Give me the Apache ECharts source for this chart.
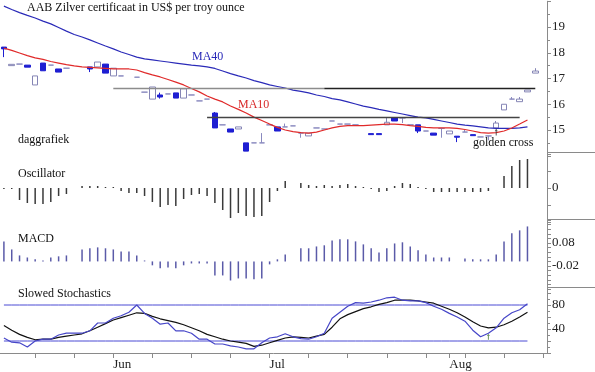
<!DOCTYPE html>
<html><head><meta charset="utf-8">
<script src="https://cdn.jsdelivr.net/npm/echarts@6/dist/echarts.min.js"></script>
<style>html,body{margin:0;padding:0;background:#fff}#c{width:595px;height:372px}</style>
</head><body><div id="c"></div>
<script>
// Trading days (category axis)
const dates = [
 "2013-05-14","2013-05-15","2013-05-16","2013-05-17",
 "2013-05-20","2013-05-21","2013-05-22","2013-05-23","2013-05-24",
 "2013-05-27","2013-05-28","2013-05-29","2013-05-30","2013-05-31",
 "2013-06-03","2013-06-04","2013-06-05","2013-06-06","2013-06-07",
 "2013-06-10","2013-06-11","2013-06-12","2013-06-13","2013-06-14",
 "2013-06-17","2013-06-18","2013-06-19","2013-06-20","2013-06-21",
 "2013-06-24","2013-06-25","2013-06-26","2013-06-27","2013-06-28",
 "2013-07-01","2013-07-02","2013-07-03","2013-07-04","2013-07-05",
 "2013-07-08","2013-07-09","2013-07-10","2013-07-11","2013-07-12",
 "2013-07-15","2013-07-16","2013-07-17","2013-07-18","2013-07-19",
 "2013-07-22","2013-07-23","2013-07-24","2013-07-25","2013-07-26",
 "2013-07-29","2013-07-30","2013-07-31",
 "2013-08-01","2013-08-02",
 "2013-08-05","2013-08-06","2013-08-07","2013-08-08","2013-08-09",
 "2013-08-12","2013-08-13","2013-08-14","2013-08-15","2013-08-16",
 "2013-08-19"
];
const monthNames = ["Jan","Feb","Mar","Apr","May","Jun","Jul","Aug","Sep","Oct","Nov","Dec"];

// Candles
const opens = [18.22,17.50,17.56,17.52,16.75,17.60,17.52,17.37,17.40,null,null,17.45,17.45,17.56,17.10,17.10,null,17.05,16.47,16.20,
16.36,16.40,16.44,16.24,16.36,16.13,16.20,15.66,15.20,15.04,15.04,14.50,14.50,14.50,15.20,15.12,15.12,15.16,14.88,14.77,
15.08,15.04,15.35,15.23,15.23,15.20,null,14.86,14.86,15.20,15.47,15.47,15.20,15.20,14.96,14.88,15.06,14.85,14.76,14.92,
14.82,14.73,14.77,15.08,15.78,16.20,16.10,16.48,17.21];
const closes = [18.15,17.55,17.56,17.44,17.10,17.30,17.52,17.25,17.40,null,null,17.37,17.64,17.21,17.40,17.10,null,17.05,16.47,16.67,
16.28,16.40,16.24,16.60,16.36,16.13,16.20,15.08,15.20,14.92,15.12,14.18,14.50,14.50,15.20,14.96,15.12,15.16,14.88,14.88,
15.08,15.04,15.35,15.23,15.23,15.20,null,14.82,14.82,15.30,15.35,15.47,15.20,14.96,14.96,14.80,15.06,14.96,14.72,14.92,
14.78,14.73,14.77,15.27,16.00,16.20,16.20,16.55,17.29];
const lows = [17.83,17.50,17.56,17.44,16.75,17.30,17.52,17.25,17.40,null,null,17.25,17.45,17.21,17.10,17.10,null,17.05,16.47,16.20,
16.22,16.40,16.24,16.24,16.36,16.13,16.20,15.08,15.20,14.92,15.04,14.18,14.50,14.50,15.20,14.96,15.12,15.16,14.70,14.77,
15.08,15.04,15.35,15.23,15.23,15.20,null,14.82,14.82,15.20,15.35,15.27,15.20,14.88,14.96,14.80,14.70,14.85,14.53,14.92,
14.78,14.73,14.60,15.08,15.78,16.20,16.10,16.48,17.21];
const highs = [18.22,17.55,17.56,17.52,17.10,17.60,17.52,17.37,17.40,null,null,17.45,17.64,17.56,17.40,17.10,null,17.05,16.47,16.67,
16.45,16.40,16.44,16.60,16.36,16.13,16.20,15.70,15.20,15.04,15.12,14.50,14.50,14.88,15.20,15.12,15.25,15.16,14.88,14.88,
15.08,15.04,15.35,15.23,15.23,15.20,null,14.86,14.86,15.47,15.47,15.47,15.20,15.20,14.96,14.88,15.06,14.96,14.76,15.00,
14.82,14.73,14.77,15.35,16.00,16.28,16.28,16.55,17.40];

// Moving averages
const ma40 = [19.81,19.68,19.56,19.45,19.35,19.23,19.12,18.98,18.84,18.71,18.61,18.50,18.38,18.26,18.15,18.03,17.93,17.83,17.76,17.72,
17.68,17.64,17.60,17.56,17.52,17.49,17.45,17.39,17.29,17.19,17.10,17.02,16.92,16.84,16.75,16.69,16.63,16.55,16.50,16.44,
16.36,16.30,16.22,16.17,16.09,16.01,15.93,15.87,15.80,15.74,15.68,15.62,15.56,15.50,15.47,15.41,15.35,15.29,15.23,15.19,
15.16,15.12,15.08,15.06,15.06,15.06,15.08,15.12];
const ma10 = [18.18,18.09,17.99,17.89,17.80,17.74,17.66,17.60,17.54,17.49,17.45,17.43,17.41,17.39,17.37,17.37,17.37,17.33,17.23,17.14,
17.06,16.96,16.86,16.75,16.61,16.48,16.32,16.20,16.09,15.93,15.80,15.66,15.50,15.37,15.23,15.10,15.00,14.94,14.90,14.88,
14.92,15.00,15.08,15.14,15.17,15.17,15.17,15.19,15.21,15.23,15.23,15.21,15.17,15.14,15.10,15.08,15.08,15.08,15.06,15.02,
14.96,14.90,14.88,14.90,14.96,15.08,15.23,15.39];

// Oscillator
const osc = [-1,-1,-12,-15,-16,-16,-14,-8,-6,0,2,2,2,1,1,-3,-5,-5,-8,-14,
-19,-17,-18,-11,-7,-6,-8,-15,-22,-30,-25,-28,-29,-28,-14,-3,7,0,5,3,
2,3,2,3,4,2,1,-1,-4,-3,2,5,4,1,-1,-4,-4,-4,-4,-4,
-4,-4,-3,0,12,22,28,29];

// MACD
const macd = [0.087,0.052,0.026,0.017,0.009,0.004,0.017,0.022,0.026,0,0.052,0.057,0.061,0.057,0.052,0.043,0.043,0.026,0.004,-0.017,
-0.030,-0.026,-0.030,-0.017,-0.009,-0.009,-0.009,-0.061,-0.061,-0.083,-0.074,-0.074,-0.078,-0.074,-0.013,0.009,0.030,0,0.057,0.057,
0.065,0.070,0.091,0.096,0.096,0.087,0.074,0.057,0.039,0.057,0.078,0.083,0.065,0.048,0.030,0.017,0.017,0.017,0,0.013,
0.009,0.009,0.009,0.030,0.087,0.122,0.135,0.152];

// Slowed stochastics
const stochK = [25,18,17,10,20,23,23,30,33,33,33,37,50,50,58,62,68,80,66,58,
48,50,37,37,33,23,23,15,15,12,10,7,7,17,25,27,32,27,24,23,
27,33,58,68,78,84,83,85,88,92,93,88,87,87,84,78,73,66,60,53,
38,27,33,42,58,67,72,82];
const stochD = [46,38,31,26,22,23,23,26,28,30,32,37,43,49,55,59,63,67,66,61,
57,54,51,47,42,37,31,27,23,20,18,16,11,13,17,21,25,27,26,25,
28,31,43,57,64,69,74,77,81,84,88,88,88,87,85,83,78,73,67,60,
52,45,42,43,47,53,60,68];

// Support / resistance levels and stochastic bands
const levelHigh = 16.63, levelLow = 15.5;
const stochBands = [20, 80];
// Golden-cross markers (day index, value)
const crossPrice = [63, 14.92];
const crossStoch = [62, 27];

const candleData = dates.map((d, i) => (i < opens.length && opens[i] != null)
  ? [opens[i], closes[i], lows[i], highs[i]] : ['-','-','-','-']);

const FONT = '"Liberation Serif", "DejaVu Serif", serif';
const axisColor = '#8a8a8a';
const arrowPath = 'path://M1.5,0L3,3L2,3L2,8L1,8L1,3L0,3Z';

function yAx(gi, min, max, interval, labelFn, minorSplit) {
  return {
    type: 'value', gridIndex: gi, position: 'right', min, max, interval,
    scale: true,
    axisLine: {show: true, lineStyle: {color: axisColor, width: 1}},
    axisTick: {show: true, inside: false, length: 4, lineStyle: {color: axisColor}},
    minorTick: {show: !!minorSplit, splitNumber: minorSplit || 5, length: 3, lineStyle: {color: axisColor}},
    splitLine: {show: false},
    axisLabel: {show: true, margin: 5, color: '#222', fontFamily: FONT, fontSize: 13,
      formatter: labelFn, showMinLabel: true, showMaxLabel: true}
  };
}

function xAx(gi, visible) {
  const ax = {type: 'category', gridIndex: gi, data: dates, boundaryGap: true};
  if (!visible) { ax.show = false; return ax; }
  ax.offset = 1.5;
  ax.axisLine = {show: true, lineStyle: {color: axisColor}};
  ax.axisTick = {show: true, alignWithLabel: true, length: 5, lineStyle: {color: axisColor},
    interval: (i, v) => { const d = new Date(v + 'T00:00:00Z'); return d.getUTCDay() === 1 || d.getUTCDate() === 1; }};
  ax.axisLabel = {show: true, align: 'left', margin: 4, color: '#222', fontFamily: FONT, fontSize: 13,
    interval: (i, v) => i > 0 && dates[i].slice(5,7) !== dates[i-1].slice(5,7),
    formatter: (v) => monthNames[parseInt(v.slice(5,7), 10) - 1]};
  return ax;
}

const bandSeries = stochBands.map(b => ({
  type: 'line', xAxisIndex: 3, yAxisIndex: 3, data: stochK.map(() => b), symbol: 'none', silent: true,
  lineStyle: {color: '#4a4ad4', width: 1}, z: 1
}));

const option = {
  animation: false,
  backgroundColor: '#fff',
  grid: [
    {left: 0, top: 1.25, width: 547, height: 154.5},
    {left: 0, top: 154, width: 547, height: 68},
    {left: 0, top: 220, width: 547, height: 69},
    {left: 0, top: 287, width: 547, height: 66}
  ],
  xAxis: [xAx(0,false), xAx(1,false), xAx(2,false), xAx(3,true)],
  yAxis: [
    yAx(0, 14, 20, 1, v => (v >= 15 && v <= 19) ? String(v) : '', 2),
    yAx(1, -34, 34, 17, v => v === 0 ? '0' : '', 0),
    yAx(2, -0.12, 0.18, 0.02, v => Math.abs(v - 0.08) < 1e-6 ? '0.08' : (Math.abs(v + 0.02) < 1e-6 ? '-0.02' : ''), 0),
    yAx(3, 0, 110, 20, v => (v === 40 || v === 80) ? String(v) : '', 2)
  ],
  series: [
    {
      type: 'candlestick', xAxisIndex: 0, yAxisIndex: 0, data: candleData, barWidth: 6,
      itemStyle: {color: '#ffffff', color0: '#1e1ed2', borderColor: '#8585b5', borderColor0: '#1e1ed2',
        borderColorDoji: '#8a8abf', borderWidth: 1},
      markLine: {
        silent: true, symbol: 'none', label: {show: false},
        data: [
          [{coord: [14, levelHigh], lineStyle: {color: '#8c8c8c', width: 1.3, type: 'solid'}}, {coord: [41, levelHigh]}],
          [{coord: [41, levelHigh], lineStyle: {color: '#222', width: 1.3, type: 'solid'}}, {coord: [68, levelHigh]}],
          [{coord: [26, levelLow], lineStyle: {color: '#444', width: 1.3, type: 'solid'}}, {coord: [66, levelLow]}]
        ]
      }
    },
    {type: 'line', xAxisIndex: 0, yAxisIndex: 0, data: ma40, symbol: 'none', lineStyle: {color: '#2a2ab8', width: 1.2}, z: 3},
    {type: 'line', xAxisIndex: 0, yAxisIndex: 0, data: ma10, symbol: 'none', lineStyle: {color: '#e02a2a', width: 1.2}, z: 3},
    {type: 'scatter', xAxisIndex: 0, yAxisIndex: 0, data: [crossPrice], symbol: arrowPath, symbolSize: [3, 7],
      itemStyle: {color: '#333'}, silent: true, z: 4},
    {type: 'bar', xAxisIndex: 1, yAxisIndex: 1, data: osc, barWidth: 1.5, itemStyle: {color: '#3a3a3a'}},
    {type: 'bar', xAxisIndex: 2, yAxisIndex: 2, data: macd, barWidth: 1.5, itemStyle: {color: '#5a5aa8'}},
    ...bandSeries,
    {type: 'line', xAxisIndex: 3, yAxisIndex: 3, data: stochD, symbol: 'none', lineStyle: {color: '#111', width: 1.2}, z: 3},
    {type: 'line', xAxisIndex: 3, yAxisIndex: 3, data: stochK, symbol: 'none', lineStyle: {color: '#4646c8', width: 1.2}, z: 3},
    {type: 'scatter', xAxisIndex: 3, yAxisIndex: 3, data: [crossStoch], symbol: arrowPath, symbolSize: [3, 6],
      itemStyle: {color: '#4a7a3a'}, silent: true, z: 4}
  ],
  graphic: [
    {type: 'text', left: 27, top: 2, style: {text: 'AAB Zilver certificaat in US$ per troy ounce', font: '12px ' + FONT, fill: '#111'}},
    {type: 'text', left: 192, top: 51, style: {text: 'MA40', font: '12px ' + FONT, fill: '#2a2ab8'}},
    {type: 'text', left: 238, top: 99, style: {text: 'MA10', font: '12px ' + FONT, fill: '#d82a2a'}},
    {type: 'text', left: 18, top: 134, style: {text: 'daggrafiek', font: '12px ' + FONT, fill: '#111'}},
    {type: 'text', left: 473, top: 137, style: {text: 'golden cross', font: '12px ' + FONT, fill: '#111'}},
    {type: 'text', left: 18, top: 168, style: {text: 'Oscillator', font: '12px ' + FONT, fill: '#111'}},
    {type: 'text', left: 18, top: 233, style: {text: 'MACD', font: '12px ' + FONT, fill: '#111'}},
    {type: 'text', left: 18, top: 288, style: {text: 'Slowed Stochastics', font: '12px ' + FONT, fill: '#111'}},
    {type: 'line', shape: {x1: 547, y1: 152.5, x2: 595, y2: 152.5}, style: {stroke: axisColor, lineWidth: 1}},
    {type: 'line', shape: {x1: 547, y1: 219.5, x2: 595, y2: 219.5}, style: {stroke: axisColor, lineWidth: 1}},
    {type: 'line', shape: {x1: 547, y1: 287.5, x2: 595, y2: 287.5}, style: {stroke: axisColor, lineWidth: 1}}
  ]
};
const chart = echarts.init(document.getElementById('c'), null, {renderer: 'canvas'});
chart.setOption(option);
</script>
</body></html>
